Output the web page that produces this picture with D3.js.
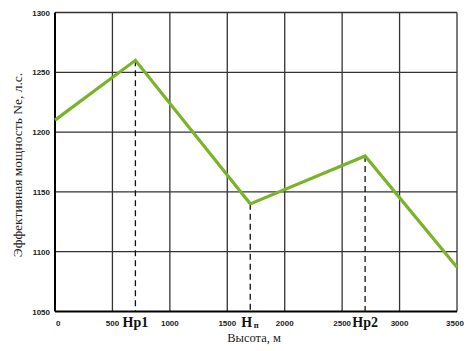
<!DOCTYPE html>
<html><head><meta charset="utf-8">
<script src="https://cdn.jsdelivr.net/npm/d3@7"></script>
<style>body{margin:0;background:#fff}svg{display:block}</style>
</head><body>
<script>
const altitudes = [0, 700, 1700, 2700, 3500];
const power = [1210, 1260, 1140, 1180, 1087];
const markerAlt = [700, 1700, 2700];
const markerLabels = ["Hp1", "H", "Hp2"];
const markerSubs = ["", "п", ""];
const xTicks = [0, 500, 1000, 1500, 2000, 2500, 3000, 3500];
const yTicks = [1050, 1100, 1150, 1200, 1250, 1300];

const W = 471, H = 351;
const m = {left: 55, right: 14, top: 12.5, bottom: 39.5};
const svg = d3.select("body").append("svg").attr("width", W).attr("height", H);
const x = d3.scaleLinear().domain([0, 3500]).range([m.left, W - m.right]);
const y = d3.scaleLinear().domain([1050, 1300]).range([H - m.bottom, m.top]);

// grid
svg.append("g").selectAll("line").data(xTicks.slice(1)).join("line")
  .attr("x1", d => x(d)).attr("x2", d => x(d)).attr("y1", y(1300)).attr("y2", y(1050))
  .attr("stroke", "#333").attr("stroke-width", 1.3);
svg.append("g").selectAll("line").data(yTicks.slice(1)).join("line")
  .attr("x1", x(0)).attr("x2", x(3500)).attr("y1", d => y(d)).attr("y2", d => y(d))
  .attr("stroke", "#333").attr("stroke-width", 1.3);

// axes
svg.append("line").attr("x1", x(0)).attr("x2", x(0)).attr("y1", y(1300)).attr("y2", y(1050))
  .attr("stroke", "#000").attr("stroke-width", 2);
svg.append("line").attr("x1", x(0)).attr("x2", x(3500)).attr("y1", y(1050)).attr("y2", y(1050))
  .attr("stroke", "#000").attr("stroke-width", 2);

// tick labels
svg.append("g").selectAll("text").data(yTicks).join("text")
  .attr("x", x(0) - 5).attr("y", d => y(d) + 3)
  .attr("text-anchor", "end").attr("font-family", "Liberation Sans, Arial, sans-serif")
  .attr("font-size", 8).attr("font-weight", "bold").attr("fill", "#222").text(d => d);
svg.append("g").selectAll("text").data(xTicks).join("text")
  .attr("x", d => x(d)).attr("y", y(1050) + 14)
  .attr("text-anchor", (d, i) => i === 0 ? "start" : "middle")
  .attr("dx", (d, i) => i === 0 ? 1 : (i === xTicks.length - 1 ? -2 : 0))
  .attr("font-family", "Liberation Sans, Arial, sans-serif")
  .attr("font-size", 8).attr("font-weight", "bold").attr("fill", "#222").text(d => d);

// dashed markers
const pts = altitudes.map((a, i) => ({a, p: power[i]}));
svg.append("g").selectAll("line").data(markerAlt).join("line")
  .attr("x1", d => x(d)).attr("x2", d => x(d))
  .attr("y1", d => y(power[altitudes.indexOf(d)])).attr("y2", y(1050))
  .attr("stroke", "#111").attr("stroke-width", 1.3).attr("stroke-dasharray", "6,4");

// line
svg.append("path").datum(pts)
  .attr("d", d3.line().x(d => x(d.a)).y(d => y(d.p)))
  .attr("fill", "none").attr("stroke", "#78b427").attr("stroke-width", 3.2)
  .attr("stroke-linejoin", "miter");

// marker labels
const ml = svg.append("g").attr("font-family", "Liberation Serif, Times New Roman, serif")
  .attr("font-weight", "bold").attr("fill", "#111");
markerLabels.forEach((t, i) => {
  const cx = x(markerAlt[i]);
  if (markerSubs[i]) {
    ml.append("text").attr("x", cx + 2).attr("y", y(1050) + 15.5).attr("text-anchor", "end")
      .attr("font-size", 14).text(t);
    ml.append("text").attr("x", cx + 3.5).attr("y", y(1050) + 16.5).attr("text-anchor", "start")
      .attr("font-size", 8.5).text(markerSubs[i]);
  } else {
    ml.append("text").attr("x", cx).attr("y", y(1050) + 15.5).attr("text-anchor", "middle")
      .attr("font-size", 14).text(t);
  }
});

// axis titles
svg.append("text").attr("x", 254).attr("y", 342).attr("text-anchor", "middle")
  .attr("font-family", "Liberation Serif, Times New Roman, serif").attr("font-size", 12.5)
  .attr("fill", "#222").text("Высота, м");
svg.append("text").attr("transform", "translate(22,165) rotate(-90)").attr("text-anchor", "middle")
  .attr("font-family", "Liberation Serif, Times New Roman, serif").attr("font-size", 13.5)
  .attr("fill", "#222").text("Эффективная мощность Ne, л.с.");
</script>
</body></html>
